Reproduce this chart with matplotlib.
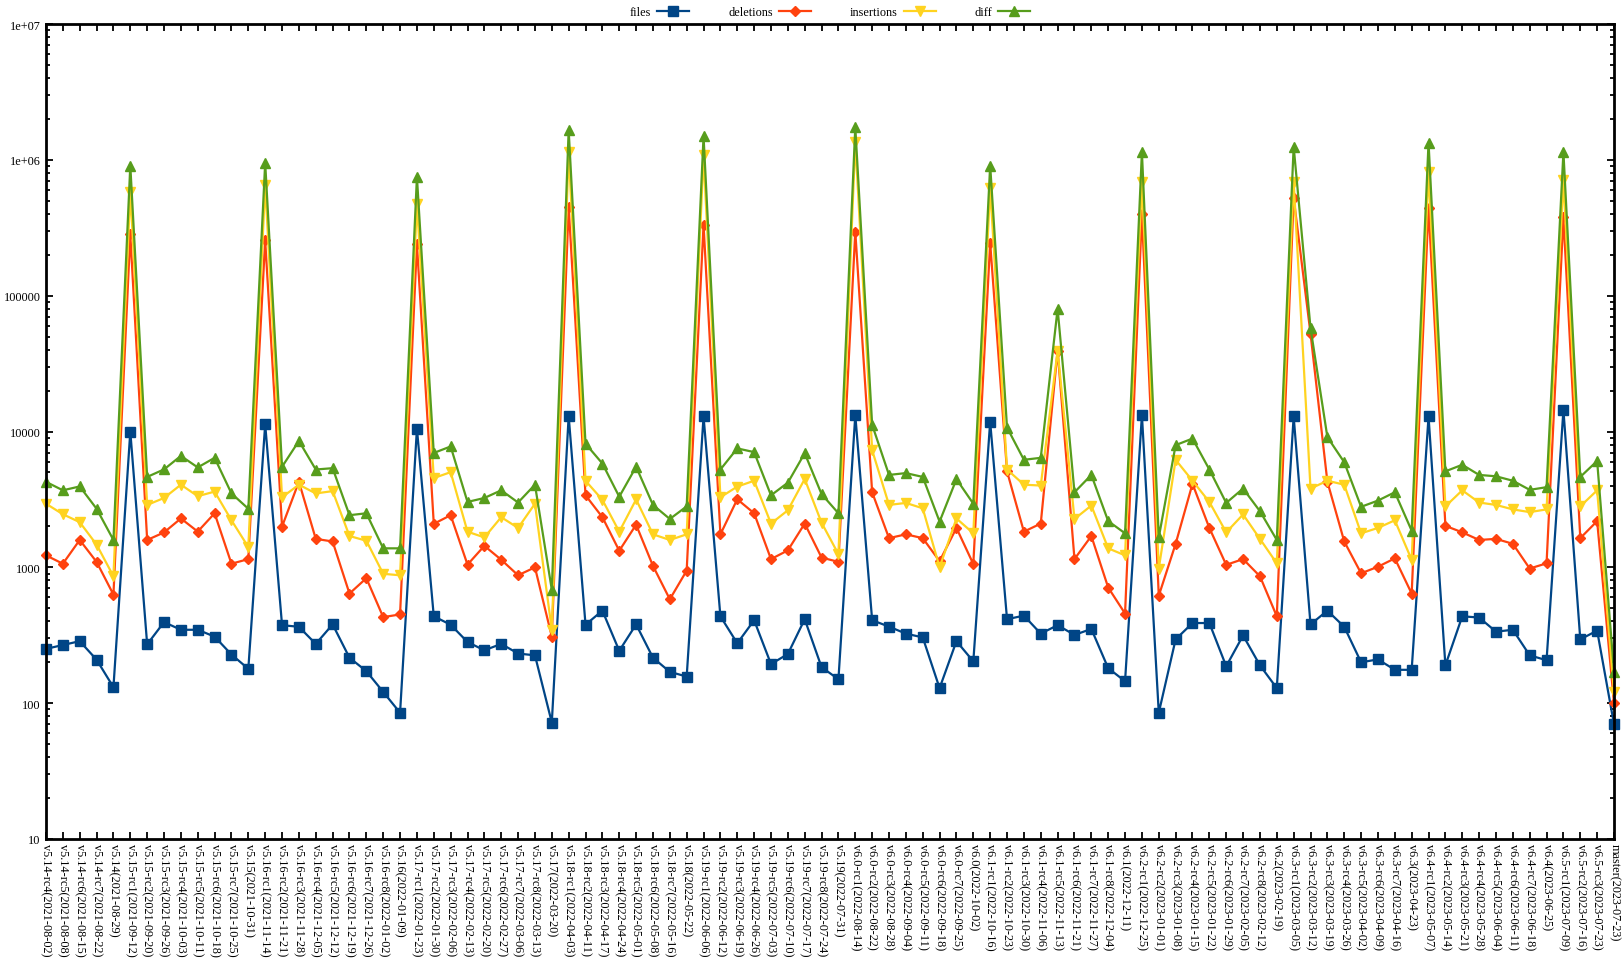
import matplotlib.pyplot as plt
import matplotlib.ticker as mticker
import numpy as np

versions = [
    "v5.14-rc4(2021-08-02)", "v5.14-rc5(2021-08-08)", "v5.14-rc6(2021-08-15)", "v5.14-rc7(2021-08-22)",
    "v5.14(2021-08-29)", "v5.15-rc1(2021-09-12)", "v5.15-rc2(2021-09-20)", "v5.15-rc3(2021-09-26)",
    "v5.15-rc4(2021-10-03)", "v5.15-rc5(2021-10-11)", "v5.15-rc6(2021-10-18)", "v5.15-rc7(2021-10-25)",
    "v5.15(2021-10-31)", "v5.16-rc1(2021-11-14)", "v5.16-rc2(2021-11-21)", "v5.16-rc3(2021-11-28)",
    "v5.16-rc4(2021-12-05)", "v5.16-rc5(2021-12-12)", "v5.16-rc6(2021-12-19)", "v5.16-rc7(2021-12-26)",
    "v5.16-rc8(2022-01-02)", "v5.16(2022-01-09)", "v5.17-rc1(2022-01-23)", "v5.17-rc2(2022-01-30)",
    "v5.17-rc3(2022-02-06)", "v5.17-rc4(2022-02-13)", "v5.17-rc5(2022-02-20)", "v5.17-rc6(2022-02-27)",
    "v5.17-rc7(2022-03-06)", "v5.17-rc8(2022-03-13)", "v5.17(2022-03-20)", "v5.18-rc1(2022-04-03)",
    "v5.18-rc2(2022-04-11)", "v5.18-rc3(2022-04-17)", "v5.18-rc4(2022-04-24)", "v5.18-rc5(2022-05-01)",
    "v5.18-rc6(2022-05-08)", "v5.18-rc7(2022-05-16)", "v5.18(2022-05-22)", "v5.19-rc1(2022-06-06)",
    "v5.19-rc2(2022-06-12)", "v5.19-rc3(2022-06-19)", "v5.19-rc4(2022-06-26)", "v5.19-rc5(2022-07-03)",
    "v5.19-rc6(2022-07-10)", "v5.19-rc7(2022-07-17)", "v5.19-rc8(2022-07-24)", "v5.19(2022-07-31)",
    "v6.0-rc1(2022-08-14)", "v6.0-rc2(2022-08-22)", "v6.0-rc3(2022-08-28)", "v6.0-rc4(2022-09-04)",
    "v6.0-rc5(2022-09-11)", "v6.0-rc6(2022-09-18)", "v6.0-rc7(2022-09-25)", "v6.0(2022-10-02)",
    "v6.1-rc1(2022-10-16)", "v6.1-rc2(2022-10-23)", "v6.1-rc3(2022-10-30)", "v6.1-rc4(2022-11-06)",
    "v6.1-rc5(2022-11-13)", "v6.1-rc6(2022-11-21)", "v6.1-rc7(2022-11-27)", "v6.1-rc8(2022-12-04)",
    "v6.1(2022-12-11)", "v6.2-rc1(2022-12-25)", "v6.2-rc2(2023-01-01)", "v6.2-rc3(2023-01-08)",
    "v6.2-rc4(2023-01-15)", "v6.2-rc5(2023-01-22)", "v6.2-rc6(2023-01-29)", "v6.2-rc7(2023-02-05)",
    "v6.2-rc8(2023-02-12)", "v6.2(2023-02-19)", "v6.3-rc1(2023-03-05)", "v6.3-rc2(2023-03-12)",
    "v6.3-rc3(2023-03-19)", "v6.3-rc4(2023-03-26)", "v6.3-rc5(2023-04-02)", "v6.3-rc6(2023-04-09)",
    "v6.3-rc7(2023-04-16)", "v6.3(2023-04-23)", "v6.4-rc1(2023-05-07)", "v6.4-rc2(2023-05-14)",
    "v6.4-rc3(2023-05-21)", "v6.4-rc4(2023-05-28)", "v6.4-rc5(2023-06-04)", "v6.4-rc6(2023-06-11)",
    "v6.4-rc7(2023-06-18)", "v6.4(2023-06-25)", "v6.5-rc1(2023-07-09)", "v6.5-rc2(2023-07-16)",
    "v6.5-rc3(2023-07-23)", "master(2023-07-23)",
]

files = [
    251, 268, 286, 209, 131, 10000, 271, 395, 347, 347, 309, 228, 179, 11300, 375, 365,
    273, 380, 216, 172, 121, 85, 10500, 436, 378, 282, 245, 273, 232, 225, 72,
    13000, 378, 480, 243, 380, 216, 170, 157, 12900, 436, 276, 408, 194, 230, 415, 184,
    150, 13200, 408, 366, 325, 305, 129, 286, 203, 11800, 415, 441, 325, 375, 318,
    352, 181, 145, 13200, 85, 295, 389, 389, 187, 315, 190, 129, 12900, 380, 480, 365,
    200, 210, 176, 176, 12900, 190, 436, 427, 336, 347, 225, 207, 14400, 295, 342, 70,
]
deletions = [
    1225, 1063, 1590, 1097, 630, 283000, 1590, 1807, 2290, 1833, 2500, 1063, 1150, 257000, 1995, 4270,
    1620, 1550, 641, 832, 430, 450, 240000, 2090, 2420, 1047, 1440, 1137, 874, 1000, 309,
    450000, 3390, 2340, 1325, 2060, 1025, 582, 946, 333000, 1750, 3170, 2500, 1150, 1333, 2100, 1180,
    1097, 296000, 3570, 1640, 1750, 1640, 1110, 1950, 1057, 245000, 5090, 1830, 2100, 39300, 1150,
    1700, 710, 457, 396000, 618, 1490, 4120, 1950, 1043, 1150, 860, 436, 524000, 52600, 4270, 1550,
    904, 1010, 1164, 641, 445000, 2020, 1810, 1590, 1620, 1490, 980, 1070, 380000, 1640, 2190, 100,
]
insertions = [
    2940, 2460, 2150, 1470, 860, 584000, 2880, 3240, 4060, 3340, 3610, 2220, 1410, 656000, 3280, 4060,
    3500, 3640, 1700, 1570, 896, 874, 474000, 4540, 5020, 1830, 1660, 2340, 1950, 2940, 347,
    1140000, 4340, 3140, 1830, 3160, 1750, 1590, 1750, 1080000, 3280, 3930, 4340, 2100, 2630, 4470, 2130,
    1250, 1360000, 7280, 2880, 2980, 2720, 1000, 2290, 1780, 624000, 5250, 4060, 4000, 39300, 2270,
    2850, 1380, 1225, 687000, 980, 6190, 4340, 3030, 1810, 2450, 1620, 1070, 687000, 3800, 4340, 4060,
    1780, 1950, 2220, 1135, 813000, 2810, 3690, 3000, 2880, 2670, 2550, 2670, 710000, 2810, 3690, 120,
]
diff = [
    4260, 3690, 3940, 2700, 1590, 907000, 4630, 5260, 6610, 5440, 6400, 3500, 2700, 950000, 5500, 8520,
    5250, 5370, 2420, 2500, 1380, 1380, 747000, 6950, 7760, 3030, 3240, 3690, 3000, 4060, 684,
    1650000, 8130, 5810, 3310, 5500, 2880, 2270, 2810, 1490000, 5250, 7510, 7050, 3390, 4200, 6920, 3460,
    2500, 1740000, 11200, 4790, 4940, 4630, 2170, 4460, 2940, 907000, 10700, 6190, 6400, 80000, 3570,
    4790, 2190, 1780, 1140000, 1660, 7940, 8870, 5250, 2980, 3800, 2590, 1590, 1250000, 57800, 9100, 5940,
    2790, 3100, 3570, 1860, 1340000, 5090, 5690, 4790, 4680, 4340, 3720, 3890, 1140000, 4630, 6070, 170,
]

plt.rcParams["font.family"] = ["Liberation Serif", "DejaVu Serif"]

x = np.arange(len(versions))

fig = plt.figure(figsize=(16.24, 9.70), dpi=100)
ax = fig.add_axes([46 / 1624, 1 - 840 / 970, 1568 / 1624, 815 / 970])

series = [
    ("files", files, "#004586", "s", 6.5),
    ("deletions", deletions, "#ff420e", "D", 5.5),
    ("insertions", insertions, "#ffd320", "v", 7.5),
    ("diff", diff, "#579d1c", "^", 7.5),
]
for name, vals, color, marker, ms in series:
    ax.plot(x, vals, color=color, lw=1.6, marker=marker, ms=ms, mec=color, mfc=color,
            label=name, clip_on=False)

ax.set_yscale("log")
ax.set_ylim(10, 1e7)
ax.set_xlim(0, len(versions) - 1)

ylabels = {10: "10", 100: "100", 1000: "1000", 1e4: "10000", 1e5: "100000", 1e6: "1e+06", 1e7: "1e+07"}
ax.yaxis.set_major_locator(mticker.FixedLocator(list(ylabels.keys())))
ax.yaxis.set_major_formatter(mticker.FuncFormatter(lambda v, p: ylabels.get(v, ylabels.get(round(v), ""))))
ax.yaxis.set_minor_locator(mticker.LogLocator(base=10, subs=np.arange(2, 10)))
ax.yaxis.set_minor_formatter(mticker.NullFormatter())

ax.set_xticks(x)
ax.set_xticklabels(versions, rotation=270, ha="center", va="top")

ax.tick_params(axis="both", which="both", direction="in", top=True, right=True, width=1.3, labelsize=8.8)
ax.tick_params(axis="both", which="major", length=5, pad=3)
ax.tick_params(axis="y", which="minor", length=3)
ax.tick_params(axis="y", which="major", pad=4)
for s in ax.spines.values():
    s.set_linewidth(2)

ax.legend(loc="lower center", bbox_to_anchor=(0.5, 1.0), ncol=4, frameon=False,
          markerfirst=False, fontsize=8.8, handlelength=2.6, columnspacing=3.2,
          borderaxespad=0.1, handletextpad=0.5)

fig.savefig("out.png", dpi=100)
